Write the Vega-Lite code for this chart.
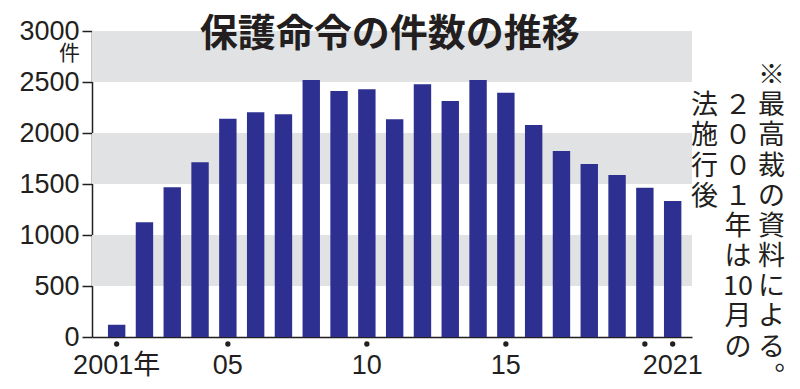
{
  "$schema": "https://vega.github.io/schema/vega-lite/v6.json",
  "padding": {"left": 18, "top": 16, "right": 5, "bottom": 0},
  "spacing": 0,
  "bounds": "flush",
  "background": "white",
  "config": {"view": {"stroke": null}, "font": "Noto Sans CJK JP"},
  "hconcat": [
    {
      "width": 600,
      "height": 306,
      "layer": [
        {
          "data": {"values": [{"lo": 500, "hi": 1000}, {"lo": 1500, "hi": 2000}, {"lo": 2500, "hi": 3000}]},
          "mark": {"type": "rect", "color": "#e1e2e4"},
          "encoding": {
            "y": {"field": "lo", "type": "quantitative", "title": "件", "scale": {"domain": [0, 3000], "nice": false}},
            "y2": {"field": "hi"}
          }
        },
        {
          "data": {"values": [
            {"year": 2001, "count": 120}, {"year": 2002, "count": 1125}, {"year": 2003, "count": 1467},
            {"year": 2004, "count": 1713}, {"year": 2005, "count": 2140}, {"year": 2006, "count": 2203},
            {"year": 2007, "count": 2183}, {"year": 2008, "count": 2520}, {"year": 2009, "count": 2412},
            {"year": 2010, "count": 2428}, {"year": 2011, "count": 2134}, {"year": 2012, "count": 2477},
            {"year": 2013, "count": 2314}, {"year": 2014, "count": 2520}, {"year": 2015, "count": 2395},
            {"year": 2016, "count": 2078}, {"year": 2017, "count": 1824}, {"year": 2018, "count": 1696},
            {"year": 2019, "count": 1588}, {"year": 2020, "count": 1464}, {"year": 2021, "count": 1333}
          ]},
          "mark": {"type": "bar", "color": "#2d3091"},
          "encoding": {
            "x": {
              "field": "year", "type": "ordinal",
              "scale": {"paddingInner": 0.374, "paddingOuter": 0.478, "align": 0.6},
              "axis": {
                "values": [2001, 2005, 2010, 2015, 2021],
                "title": null,
                "labelExpr": "datum.value == 2001 ? '2001年' : datum.value == 2021 ? '2021' : substring(toString(datum.value), 2)",
                "labelFont": "Liberation Sans, Noto Sans CJK JP",
                "labelFontSize": 27,
                "labelColor": "#231f20",
                "labelAngle": 0,
                "labelPadding": 15,
                "labelOverlap": false,
                "labelBound": false,
                "labelFlush": false,
                "ticks": false,
                "domainColor": "#231f20",
                "domainWidth": 1.5,
                "encode": {
                  "labels": {"update": {
                    "align": {"signal": "datum.value == 2001 ? 'left' : datum.value == 2021 ? 'right' : 'center'"},
                    "dx": {"signal": "datum.value == 2001 ? -32 : datum.value == 2021 ? 12 : 0"}
                  }}
                }
              }
            },
            "y": {
              "field": "count", "type": "quantitative", "title": "件",
              "axis": {
                "values": [0, 500, 1000, 1500, 2000, 2500, 3000],
                "format": "d",
                "grid": false,
                "titleAngle": 0, "titleX": -23, "titleY": 22,
                "titleAlign": "center", "titleBaseline": "middle",
                "titleFontSize": 21, "titleFontWeight": "normal",
                "titleFont": "Noto Sans CJK JP", "titleColor": "#231f20",
                "labelFont": "Liberation Sans", "labelFontSize": 27,
                "labelColor": "#231f20", "labelPadding": 3,
                "labelBound": false, "labelFlush": false, "labelOverlap": false,
                "tickSize": 10, "tickWidth": 1.5, "tickColor": "#231f20",
                "domainColor": "#231f20", "domainWidth": 1.5,
                "encode": {"labels": {"update": {"dy": {"signal": "datum.value == 3000 ? -2 : 6"}}}}
              }
            }
          }
        },
        {
          "data": {"values": [{"year": 2001}, {"year": 2005}, {"year": 2010}, {"year": 2015}, {"year": 2020}, {"year": 2021}]},
          "mark": {"type": "point", "filled": true, "size": 28, "color": "#231f20", "opacity": 1, "yOffset": 7},
          "encoding": {
            "x": {"field": "year", "type": "ordinal"},
            "y": {"datum": 0, "type": "quantitative"}
          }
        },
        {
          "data": {"values": [{"label": "保護命令の件数の推移"}]},
          "mark": {"type": "text", "font": "Noto Sans CJK JP", "fontSize": 38, "fontWeight": "bold", "color": "#231f20", "align": "center", "baseline": "middle", "dx": -5},
          "encoding": {
            "x": {"datum": 2011, "type": "ordinal"},
            "y": {"datum": 2956, "type": "quantitative"},
            "text": {"field": "label"}
          }
        }
      ]
    },
    {
      "width": 92,
      "height": 352,
      "data": {"values": [
        {"col": 2, "row": 0, "ch": "※"}, {"col": 2, "row": 1, "ch": "最"}, {"col": 2, "row": 2, "ch": "高"},
        {"col": 2, "row": 3, "ch": "裁"}, {"col": 2, "row": 4, "ch": "の"}, {"col": 2, "row": 5, "ch": "資"},
        {"col": 2, "row": 6, "ch": "料"}, {"col": 2, "row": 7, "ch": "に"}, {"col": 2, "row": 8, "ch": "よ"},
        {"col": 2, "row": 9, "ch": "る"}, {"col": 2, "row": 10, "ch": "︒"},
        {"col": 1, "row": 1, "ch": "２"}, {"col": 1, "row": 2, "ch": "０"}, {"col": 1, "row": 3, "ch": "０"},
        {"col": 1, "row": 4, "ch": "１"}, {"col": 1, "row": 5, "ch": "年"}, {"col": 1, "row": 6, "ch": "は"},
        {"col": 1, "row": 7, "ch": "10"}, {"col": 1, "row": 8, "ch": "月"}, {"col": 1, "row": 9, "ch": "の"},
        {"col": 0, "row": 1, "ch": "法"}, {"col": 0, "row": 2, "ch": "施"}, {"col": 0, "row": 3, "ch": "行"},
        {"col": 0, "row": 4, "ch": "後"}
      ]},
      "mark": {"type": "text", "font": "Noto Sans CJK JP", "fontSize": 27, "color": "#231f20", "align": "center", "baseline": "middle"},
      "encoding": {
        "x": {"field": "col", "type": "quantitative", "scale": {"domain": [-0.373, 2.373], "nice": false, "zero": false}, "axis": null},
        "y": {"field": "row", "type": "quantitative", "scale": {"domain": [-1.49, 10.17], "nice": false, "zero": false, "reverse": true}, "axis": null},
        "text": {"field": "ch"}
      }
    }
  ]
}
